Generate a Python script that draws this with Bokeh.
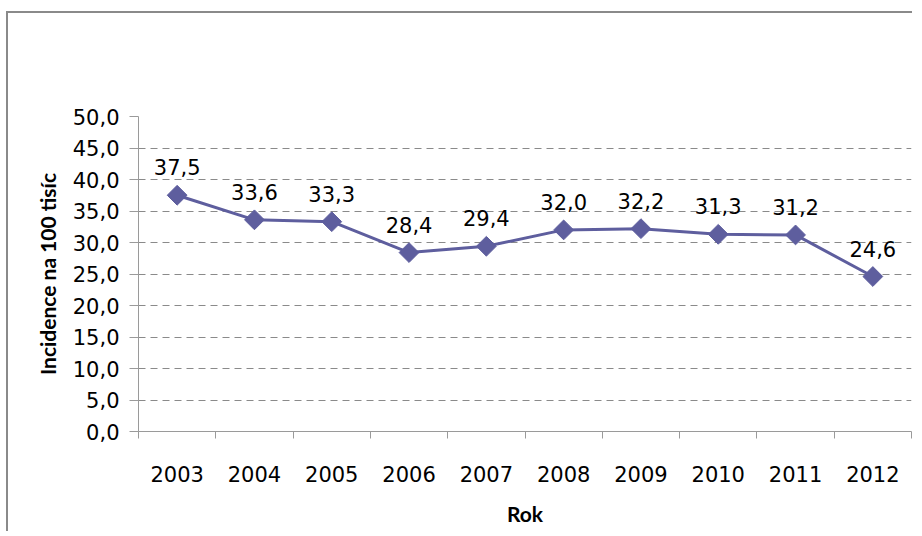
from bokeh.plotting import figure
from bokeh.models import Range1d, FixedTicker, CustomJSTickFormatter, ColumnDataSource
from bokeh.core.properties import value
from bokeh.embed import file_html
from bokeh.resources import INLINE
import numpy as np

years = [2003, 2004, 2005, 2006, 2007, 2008, 2009, 2010, 2011, 2012]
incidence = [37.5, 33.6, 33.3, 28.4, 29.4, 32.0, 32.2, 31.3, 31.2, 24.6]
y_ticks = [0, 5, 10, 15, 20, 25, 30, 35, 40, 45, 50]
y_title = "Incidence na 100 tisíc"
x_title = "Rok"

labels = [f"{v:.1f}".replace(".", ",") for v in incidence]
src = ColumnDataSource(dict(x=years, y=incidence, lab=labels))

LINE = "#5E5E9E"
NUM_FONT = "DejaVu Sans"
TITLE_FONT = "Lato"

p = figure(width=906, height=520, output_backend="svg", toolbar_location=None,
           x_range=Range1d(years[0] - 0.5, years[-1] + 0.5),
           y_range=Range1d(y_ticks[0], y_ticks[-1]),
           min_border_left=130, min_border_right=3, min_border_top=103, min_border_bottom=102)
p.styles = {"border-top": "2px solid #8a8a8a", "border-left": "2px solid #8a8a8a",
            "margin-top": "11px", "margin-left": "6px"}
p.outline_line_color = None
p.background_fill_color = "white"
p.border_fill_color = "white"

p.xgrid.visible = False
p.ygrid.ticker = FixedTicker(ticks=y_ticks)
p.ygrid.grid_line_color = "#8a8a8a"
p.ygrid.grid_line_dash = "7 5"
p.ygrid.grid_line_width = 1

# y axis
ya = p.yaxis[0]
ya.ticker = FixedTicker(ticks=y_ticks)
ya.formatter = CustomJSTickFormatter(code="return tick.toFixed(1).replace('.', ',');")
ya.axis_line_color = "#9a9a9a"
ya.major_tick_line_color = "#9a9a9a"
ya.major_tick_out = 9
ya.major_tick_in = 0
ya.minor_tick_line_color = None
ya.major_label_text_font = NUM_FONT
ya.major_label_text_font_size = "21px"
ya.major_label_text_color = "black"
ya.major_label_standoff = 10
ya.axis_label = y_title
ya.axis_label_text_font = TITLE_FONT
ya.axis_label_text_font_style = "bold"
ya.axis_label_text_font_size = "21px"
ya.axis_label_text_color = "black"
ya.axis_label_standoff = 10

# x axis
xa = p.xaxis[0]
xa.ticker = FixedTicker(ticks=years, minor_ticks=[y - 0.5 for y in years] + [years[-1] + 0.5])
xa.formatter = CustomJSTickFormatter(code="return tick.toFixed(0);")
xa.axis_line_color = "#9a9a9a"
xa.major_tick_line_color = None
xa.major_tick_out = 0
xa.major_tick_in = 0
xa.minor_tick_line_color = "#9a9a9a"
xa.minor_tick_out = 7
xa.minor_tick_in = 0
xa.major_label_text_font = NUM_FONT
xa.major_label_text_font_size = "21px"
xa.major_label_text_color = "black"
xa.major_label_standoff = 27
xa.axis_label = x_title
xa.axis_label_text_font = TITLE_FONT
xa.axis_label_text_font_style = "bold"
xa.axis_label_text_font_size = "21px"
xa.axis_label_text_color = "black"
xa.axis_label_standoff = 16

p.line("x", "y", source=src, line_color=LINE, line_width=3)
p.scatter("x", "y", source=src, marker="square", size=14, angle=np.pi / 4,
          fill_color=LINE, line_color=LINE)
p.text("x", "y", text="lab", source=src, text_font=value(NUM_FONT), text_font_size="21px",
       text_align="center", text_baseline="alphabetic", y_offset=-28, text_color="black")

open("out.html", "w").write(file_html(p, INLINE))
